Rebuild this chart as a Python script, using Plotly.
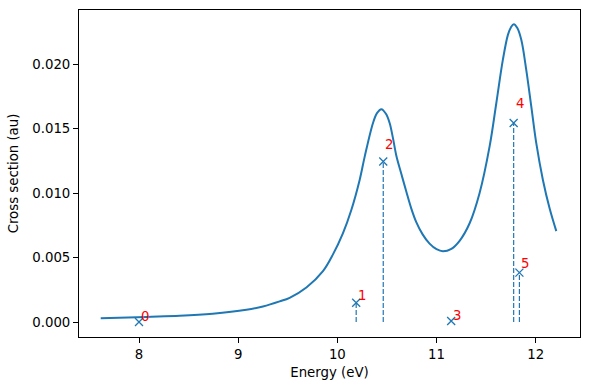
import plotly.graph_objects as go

# Broadened spectrum
curve_x = [7.614, 8.075, 8.41, 8.743, 9.083, 9.25, 9.418, 9.519, 9.688, 9.855,
           9.956, 10.056, 10.141, 10.225, 10.276, 10.359, 10.40, 10.444, 10.49,
           10.528, 10.56, 10.595, 10.645, 10.696, 10.746, 10.796, 10.86, 10.93,
           11.0, 11.065, 11.15, 11.233, 11.334, 11.434, 11.535, 11.603, 11.669,
           11.720, 11.750, 11.780, 11.815, 11.855, 11.905, 11.956, 12.006, 12.073,
           12.141, 12.208]
curve_y = [0.00029, 0.00040, 0.00048, 0.00064, 0.00095, 0.00121, 0.00160, 0.00188,
           0.00268, 0.00395, 0.00525, 0.00688, 0.00869, 0.01102, 0.01283, 0.01542,
           0.01620, 0.01651, 0.01615, 0.01542, 0.01430, 0.01290, 0.01150, 0.01010,
           0.00880, 0.00775, 0.00680, 0.00608, 0.00565, 0.00549, 0.00568, 0.00630,
           0.00766, 0.00999, 0.01360, 0.01697, 0.02033, 0.02227, 0.02285, 0.02310,
           0.02280, 0.02189, 0.01956, 0.01671, 0.01387, 0.01102, 0.00880, 0.00705]

# Stick transitions
stick_x = [8.00, 10.19, 10.463, 11.148, 11.778, 11.836]
stick_y = [0.0000, 0.00150, 0.01245, 0.00008, 0.01543, 0.00383]
stick_labels = ["0", "1", "2", "3", "4", "5"]

blue = "#1f77b4"
font = "DejaVu Sans"

fig = go.Figure()
fig.add_trace(go.Scatter(x=curve_x, y=curve_y, mode="lines",
                         line=dict(color=blue, width=2, shape="spline", smoothing=1.0),
                         showlegend=False, hoverinfo="skip"))

for sx, sy in zip(stick_x, stick_y):
    fig.add_trace(go.Scatter(x=[sx, sx], y=[0, sy], mode="lines",
                             line=dict(color=blue, width=1.2, dash="5px,2px"),
                             showlegend=False, hoverinfo="skip"))

fig.add_trace(go.Scatter(x=stick_x, y=stick_y, mode="markers",
                         marker=dict(symbol="x-thin", size=8, color=blue,
                                     line=dict(color=blue, width=1.3)),
                         showlegend=False))

for sx, sy, lab in zip(stick_x, stick_y, stick_labels):
    fig.add_annotation(x=sx, y=sy * 1.07, text=lab, showarrow=False,
                       xanchor="left", yanchor="bottom", xshift=0, yshift=-4,
                       font=dict(color="red", size=13.3, family=font))

axis_common = dict(showline=True, linecolor="black", linewidth=1, mirror=True,
                   ticks="outside", ticklen=5, tickwidth=1, tickcolor="black",
                   showgrid=False, zeroline=False, automargin=False,
                   tickfont=dict(size=13.3, family=font, color="black"),
                   title_font=dict(size=13.3, family=font, color="black"))

fig.update_xaxes(range=[7.395, 12.447], dtick=1, tick0=8,
                 title_text="Energy (eV)", title_standoff=6, **axis_common)
fig.update_yaxes(range=[-0.00116, 0.0242], dtick=0.005, tick0=0, tickformat=".3f",
                 title_text="Cross section (au)", title_standoff=10, **axis_common)

fig.update_layout(width=590, height=390, margin=dict(l=79, r=10, t=10, b=53),
                  plot_bgcolor="white", paper_bgcolor="white",
                  font=dict(family=font, size=13.3, color="black"))

fig.write_html("out.html", config={"displayModeBar": False},
               post_script="document.body.style.margin='0';document.body.style.padding='0';")
